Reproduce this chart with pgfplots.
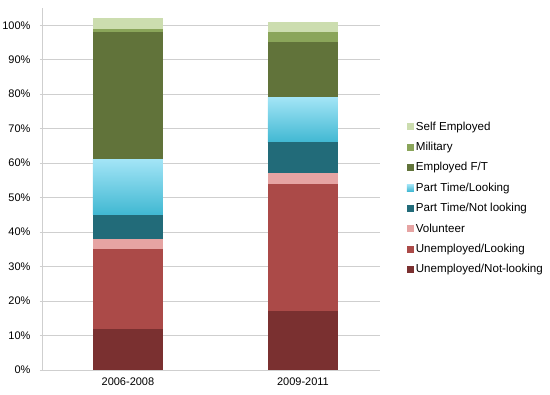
\documentclass[border=0pt]{standalone}
\usepackage{pgfplots}
\pgfplotsset{compat=1.18}
\usepackage{fontspec}
\setmainfont{Liberation Sans}
\definecolor{cUNL}{HTML}{7A3030}
\definecolor{cUL}{HTML}{AB4A48}
\definecolor{cVol}{HTML}{E6A4A3}
\definecolor{cPTN}{HTML}{226B79}
\definecolor{cPTLt}{HTML}{A2E4F6}
\definecolor{cPTLb}{HTML}{40B8D2}
\definecolor{cEFT}{HTML}{61733A}
\definecolor{cMil}{HTML}{8AA55A}
\definecolor{cSE}{HTML}{CCDDAF}
\definecolor{gridc}{HTML}{CFCFCF}
\pgfplotsset{
  common/.style={
    scale only axis,
    width=338pt, height=362pt,
    ybar stacked,
    bar width=0.4,
    xmin=-0.491, xmax=1.44,
    ymin=0, ymax=105,
    every axis plot/.append style={draw=none},
  }
}
\begin{document}
\begin{tikzpicture}
\begin{axis}[
  common,
  xtick={0,1},
  xticklabels={2006-2008,2009-2011},
  x tick style={draw=none},
  extra x ticks={0.5},
  extra x tick labels={},
  extra x tick style={major tick length=4pt, tick style={draw=gridc, thick}},
  ytick={0,10,...,100},
  yticklabel={\pgfmathprintnumber{\tick}\%},
  y tick style={draw=gridc, thick},
  major tick length=4pt,
  tick align=outside,
  ymajorgrids,
  grid style={draw=gridc, thick},
  axis x line=bottom,
  axis y line=left,
  axis line style={-, draw=gridc, thick},
  tick label style={font=\fontsize{11}{13}\selectfont},
  /pgf/number format/assume math mode=true,
  xticklabel style={yshift=-2pt},
  yticklabel style={xshift=-6pt},
  legend style={draw=none, fill=none, at={(1.07,0.475)}, anchor=west,
    font=\fontsize{11.6}{13}\selectfont, row sep=6.5pt,
    /tikz/every even column/.append style={column sep=2pt}},
  legend cell align=left,
  legend image code/.code={\fill[#1] (0pt,-3.5pt) rectangle (7pt,3.5pt);},
  reverse legend,
]
\addplot[fill=cUNL] coordinates {(0,12)};
\addplot[fill=cUL] coordinates {(0,23)};
\addplot[fill=cVol] coordinates {(0,3)};
\addplot[fill=cPTN] coordinates {(0,7)};
\addplot[top color=cPTLt, bottom color=cPTLb] coordinates {(0,16)};
\addplot[fill=cEFT] coordinates {(0,37)};
\addplot[fill=cMil] coordinates {(0,1)};
\addplot[fill=cSE] coordinates {(0,3)};
\legend{Unemployed/Not-looking,Unemployed/Looking,Volunteer,Part Time/Not looking,Part Time/Looking,Employed F/T,Military,Self Employed}
\end{axis}
\begin{axis}[common, hide axis]
\addplot[fill=cUNL] coordinates {(1,17)};
\addplot[fill=cUL] coordinates {(1,37)};
\addplot[fill=cVol] coordinates {(1,3)};
\addplot[fill=cPTN] coordinates {(1,9)};
\addplot[top color=cPTLt, bottom color=cPTLb] coordinates {(1,13)};
\addplot[fill=cEFT] coordinates {(1,16)};
\addplot[fill=cMil] coordinates {(1,3)};
\addplot[fill=cSE] coordinates {(1,3)};
\end{axis}
\pgfresetboundingbox
\path[use as bounding box] (-42pt,-25pt) rectangle (508pt,370pt);
\end{tikzpicture}
\end{document}
